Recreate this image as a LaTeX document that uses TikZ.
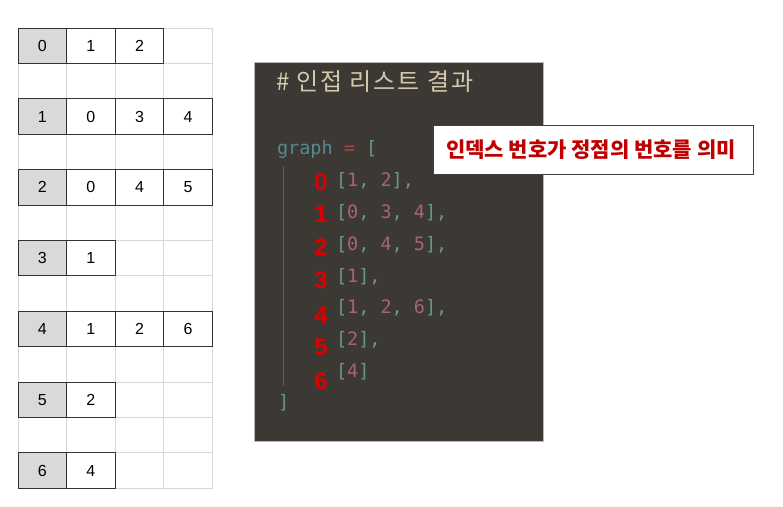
\documentclass[tikz,border=0pt]{standalone}
\usepackage{fontspec}
\setmainfont{Liberation Sans}
\newfontfamily\krfont{Noto Sans CJK KR}
\newfontfamily\titlefont[LetterSpace=8]{Noto Sans CJK KR}
\newfontfamily\codefont{DejaVu Sans Mono}
\usetikzlibrary{positioning}
\definecolor{panelbg}{RGB}{60,56,52}
\definecolor{guide}{RGB}{98,94,90}
\definecolor{headgray}{RGB}{217,217,217}
\definecolor{gridgray}{RGB}{214,214,214}
\definecolor{titlebeige}{RGB}{212,201,173}
\definecolor{codeteal}{RGB}{84,139,146}
\definecolor{codeeq}{RGB}{170,72,72}
\definecolor{codebrk}{RGB}{104,152,138}
\definecolor{codenum}{RGB}{166,98,128}
\definecolor{idxred}{RGB}{222,0,0}
\definecolor{notered}{RGB}{192,0,0}
\newcommand{\bk}[1]{\textcolor{codebrk}{#1}}
\newcommand{\nm}[1]{\textcolor{codenum}{#1}}

\begin{document}
\begin{tikzpicture}[x=1pt, y=-1pt, every node/.style={inner sep=0pt, outer sep=0pt},
  cell/.style={draw=black!80, line width=1pt, fill=white, minimum width=48.6pt, minimum height=35.4pt, font=\fontsize{16}{18}\selectfont},
  head/.style={cell, fill=headgray},
  code/.style={anchor=west, font=\codefont\fontsize{18.5}{20}\selectfont},
  idx/.style={font=\bfseries\fontsize{24}{26}\selectfont, text=idxred},
  note/.style={draw=black!75, line width=1pt, fill=white, minimum width=320pt, minimum height=49pt}]
\useasboundingbox (0,0) rectangle (783,506);
% background grid
\foreach \r in {0,...,12} \foreach \c in {0,...,3}
  \draw[gridgray, line width=0.8pt] (18+48.6*\c, 28+35.4*\r) rectangle ++(48.6,35.4);
% adjacency rows
\foreach \r/\lst in {0/{1,2}, 1/{0,3,4}, 2/{0,4,5}, 3/{1}, 4/{1,2,6}, 5/{2}, 6/{4}} {
  \node[head] (h\r) at (42.3, 45.7+70.8*\r) {\r};
  \foreach \v [count=\k] in \lst
    \node[cell] (c\r-\k) at (42.3+48.6*\k, 45.7+70.8*\r) {\v};
}
% code panel
\fill[panelbg, draw=gray!55, line width=0.8pt] (254,62) rectangle (543,441);
\draw[guide, line width=0.8pt] (283,166) -- (283,386);
\node[anchor=west, text=titlebeige, font=\titlefont\fontsize{24}{26}\selectfont] (title) at (276,82) {\# 인접 리스트 결과};
\node[code] (open) at (277,149) {\textcolor{codeteal}{graph} \textcolor{codeeq}{=} \bk{[}};
\node[code] (l0) at (336,181) {\bk{[}\nm{1}\bk{, }\nm{2}\bk{],}};
\node[code] (l1) at (336,213) {\bk{[}\nm{0}\bk{, }\nm{3}\bk{, }\nm{4}\bk{],}};
\node[code] (l2) at (336,245) {\bk{[}\nm{0}\bk{, }\nm{4}\bk{, }\nm{5}\bk{],}};
\node[code] (l3) at (336,277) {\bk{[}\nm{1}\bk{],}};
\node[code] (l4) at (336,308) {\bk{[}\nm{1}\bk{, }\nm{2}\bk{, }\nm{6}\bk{],}};
\node[code] (l5) at (336,340) {\bk{[}\nm{2}\bk{],}};
\node[code] (l6) at (336,372) {\bk{[}\nm{4}\bk{]}};
\node[code] (close) at (278,403) {\bk{]}};
\foreach \i/\yy in {0/182, 1/214, 2/247, 3/280, 4/315, 5/347, 6/381}
  \node[idx] (n\i) at (321,\yy) {\i};
% callout
\node[note] (tag) at (593,149.5) {};
\node[anchor=west, text=notered, font=\krfont\bfseries\fontsize{21}{23}\selectfont] (tagtxt) at (446,149.5) {인덱스 번호가 정점의 번호를 의미};
\end{tikzpicture}
\end{document}
